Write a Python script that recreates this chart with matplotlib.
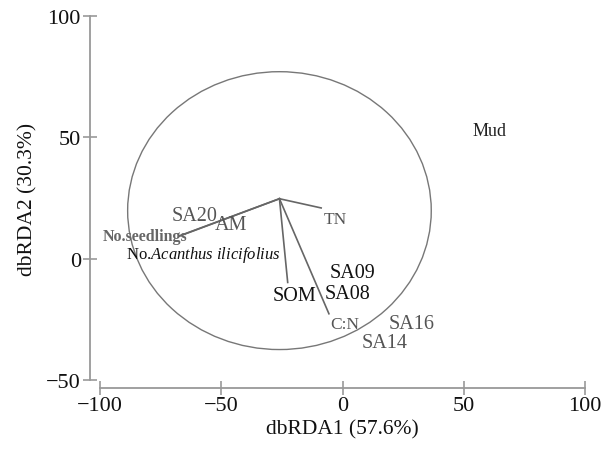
import matplotlib
matplotlib.use("Agg")
import matplotlib.pyplot as plt
from matplotlib.patches import Ellipse

plt.rcParams['font.family'] = ['Liberation Serif', 'DejaVu Serif']
plt.rcParams['mathtext.fontset'] = 'custom'
plt.rcParams['mathtext.rm'] = 'Liberation Serif'
plt.rcParams['mathtext.it'] = 'Liberation Serif:italic'

# sites (dbRDA scores)
sites = ["SA20", "AM", "SOM", "SA09", "SA08", "SA16", "SA14", "Mud"]
site_x = [-61, -46, -20, 4, 2, 28.5, 17.5, 60.5]
site_y = [17.8, 14, -15.3, -5.8, -14.5, -26.9, -34.7, 52.9]
site_col = ["#555555", "#555555", "#111111", "#111111", "#111111", "#555555", "#555555", "#222222"]
site_size = [14.5, 14.5, 14.5, 14.5, 14.5, 14.5, 14.5, 13]

# environmental vectors
origin = (-26, 24.7)
vec_names = ["No.seedlings", "No.Acanthus", "TN", "SOM", "C:N"]
vec_x = [-67.5, -67.0, -8.8, -22.6, -5.6]
vec_y = [9.2, 9.5, 20.9, -9.8, -22.7]

# vector labels
vlab = ["No.seedlings", "No.$\\it{Acanthus\\ ilicifolius}$", "TN", "C:N"]
vlab_x = [-81.6, -57.3, -2.9, 0.8]
vlab_y = [9.2, 2.0, 16.5, -26.9]
vlab_col = ["#666666", "#111111", "#555555", "#555555"]
vlab_size = [11.5, 12, 12.5, 12.5]
vlab_bold = [True, False, False, False]

# correlation circle
circ_center = (-26, 19.8)
circ_w = 125.2
circ_h = 114.5

fig = plt.figure(figsize=(6.03, 4.56), dpi=100)
ax = fig.add_axes([100 / 603, 75 / 456, 485 / 603, 364 / 456])
ax.set_xlim(-100, 100)
ax.set_ylim(-50, 100)

ax.add_patch(Ellipse(circ_center, circ_w, circ_h, fill=False, edgecolor="#777777", lw=1.0))

for x, y in zip(vec_x, vec_y):
    ax.plot([origin[0], x], [origin[1], y], color="#666666", lw=1.2)

for s, x, y, c, fs in zip(sites, site_x, site_y, site_col, site_size):
    ax.text(x, y, s, color=c, fontsize=fs, ha="center", va="center")

for s, x, y, c, fs, b in zip(vlab, vlab_x, vlab_y, vlab_col, vlab_size, vlab_bold):
    ax.text(x, y, s, color=c, fontsize=fs, ha="center", va="center",
            fontweight="bold" if b else "normal")

for side in ["top", "right"]:
    ax.spines[side].set_visible(False)
ax.spines["left"].set_position(("outward", 7))
ax.spines["bottom"].set_position(("outward", 6))
ax.spines["left"].set_bounds(-50, 100)
ax.spines["bottom"].set_bounds(-100, 100)
for side in ["left", "bottom"]:
    ax.spines[side].set_color("#999999")
    ax.spines[side].set_linewidth(1.3)

ax.set_xticks([-100, -50, 0, 50, 100])
ax.set_yticks([-50, 0, 50, 100])
ax.tick_params(axis="both", direction="inout", length=9.5, width=1.2,
               color="#999999", labelsize=16, labelcolor="#111111")
ax.tick_params(axis="y", pad=2)
ax.tick_params(axis="x", pad=1)

ax.set_xlabel("dbRDA1 (57.6%)", fontsize=15.5, color="#111111", labelpad=3)
ax.set_ylabel("dbRDA2 (30.3%)", fontsize=15.5, color="#111111", labelpad=6)

fig.savefig("out.png", dpi=100)
